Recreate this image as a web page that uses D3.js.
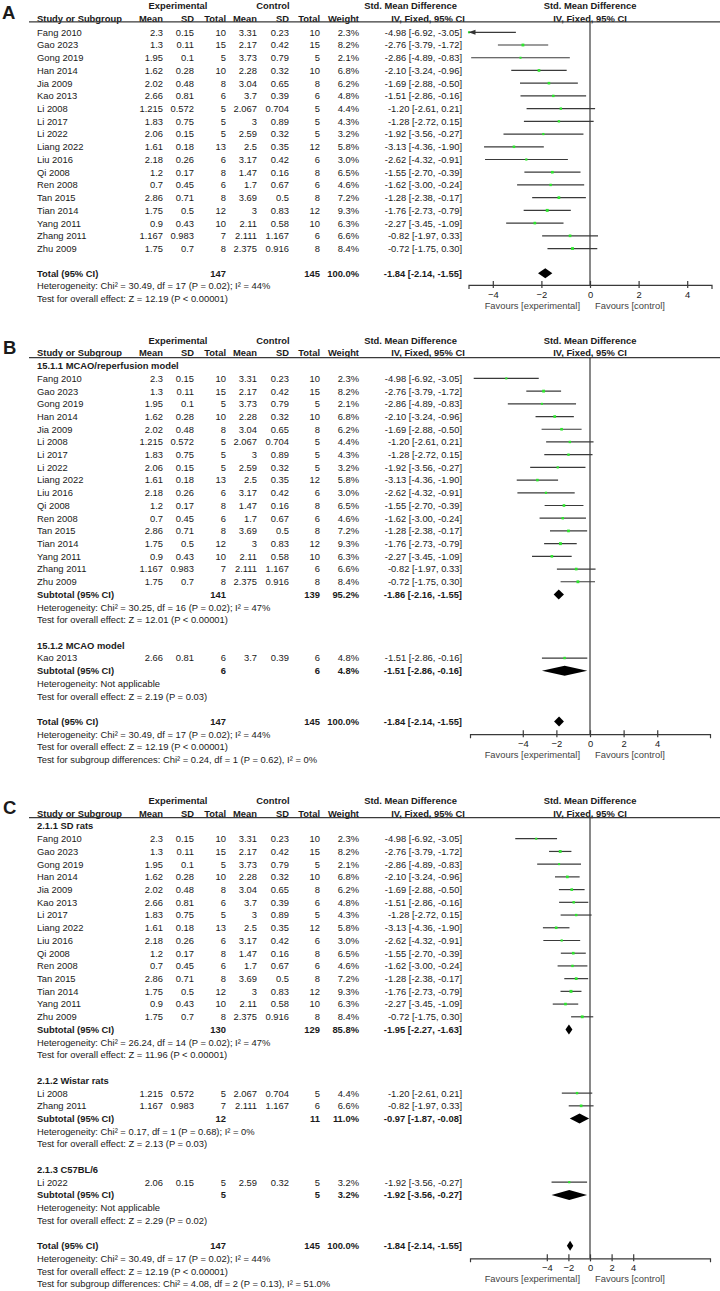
<!DOCTYPE html>
<html><head><meta charset="utf-8">
<script src="https://cdn.jsdelivr.net/npm/d3@7"></script>
<style>
body{margin:0;background:#fff}
text{font-family:"Liberation Sans",Arial,Helvetica,sans-serif;fill:#1a1a1a}
</style>
</head><body>
<svg id="chart" width="720" height="1291"></svg>
<script>
// ---------- data ----------
const studies = ["Fang 2010","Gao 2023","Gong 2019","Han 2014","Jia 2009","Kao 2013","Li 2008","Li 2017","Li 2022","Liang 2022","Liu 2016","Qi 2008","Ren 2008","Tan 2015","Tian 2014","Yang 2011","Zhang 2011","Zhu 2009"];
const expMean = [2.3,1.3,1.95,1.62,2.02,2.66,1.215,1.83,2.06,1.61,2.18,1.2,0.7,2.86,1.75,0.9,1.167,1.75];
const expSD   = [0.15,0.11,0.1,0.28,0.48,0.81,0.572,0.75,0.15,0.18,0.26,0.17,0.45,0.71,0.5,0.43,0.983,0.7];
const expN    = [10,15,5,10,8,6,5,5,5,13,6,8,6,8,12,10,7,8];
const ctlMean = [3.31,2.17,3.73,2.28,3.04,3.7,2.067,3,2.59,2.5,3.17,1.47,1.7,3.69,3,2.11,2.111,2.375];
const ctlSD   = [0.23,0.42,0.79,0.32,0.65,0.39,0.704,0.89,0.32,0.35,0.42,0.16,0.67,0.5,0.83,0.58,1.167,0.916];
const ctlN    = [10,15,5,10,8,6,5,5,5,12,6,8,6,8,12,10,6,8];
const weight  = [2.3,8.2,2.1,6.8,6.2,4.8,4.4,4.3,3.2,5.8,3.0,6.5,4.6,7.2,9.3,6.3,6.6,8.4];
const smd     = [-4.98,-2.76,-2.86,-2.10,-1.69,-1.51,-1.20,-1.28,-1.92,-3.13,-2.62,-1.55,-1.62,-1.28,-1.76,-2.27,-0.82,-0.72];
const ciLow   = [-6.92,-3.79,-4.89,-3.24,-2.88,-2.86,-2.61,-2.72,-3.56,-4.36,-4.32,-2.70,-3.00,-2.38,-2.73,-3.45,-1.97,-1.75];
const ciHigh  = [-3.05,-1.72,-0.83,-0.96,-0.50,-0.16,0.21,0.15,-0.27,-1.90,-0.91,-0.39,-0.24,-0.17,-0.79,-1.09,0.33,0.30];

// subgroups panel B
const groupNamesB = ["15.1.1 MCAO/reperfusion model","15.1.2 MCAO model"];
const groupMembersB = [
  ["Fang 2010","Gao 2023","Gong 2019","Han 2014","Jia 2009","Li 2008","Li 2017","Li 2022","Liang 2022","Liu 2016","Qi 2008","Ren 2008","Tan 2015","Tian 2014","Yang 2011","Zhang 2011","Zhu 2009"],
  ["Kao 2013"]];
const subExpNB = [141,6], subCtlNB = [139,6], subWeightB = [95.2,4.8];
const subSmdB = [-1.86,-1.51], subLowB = [-2.16,-2.86], subHighB = [-1.55,-0.16];
const subHetB = ["Heterogeneity: Chi\u00b2 = 30.25, df = 16 (P = 0.02); I\u00b2 = 47%","Heterogeneity: Not applicable"];
const subTestB = ["Test for overall effect: Z = 12.01 (P < 0.00001)","Test for overall effect: Z = 2.19 (P = 0.03)"];
const subgroupDiffB = "Test for subgroup differences: Chi\u00b2 = 0.24, df = 1 (P = 0.62), I\u00b2 = 0%";

// subgroups panel C
const groupNamesC = ["2.1.1 SD rats","2.1.2 Wistar rats","2.1.3 C57BL/6"];
const groupMembersC = [
  ["Fang 2010","Gao 2023","Gong 2019","Han 2014","Jia 2009","Kao 2013","Li 2017","Liang 2022","Liu 2016","Qi 2008","Ren 2008","Tan 2015","Tian 2014","Yang 2011","Zhu 2009"],
  ["Li 2008","Zhang 2011"],
  ["Li 2022"]];
const subExpNC = [130,12,5], subCtlNC = [129,11,5], subWeightC = [85.8,11.0,3.2];
const subSmdC = [-1.95,-0.97,-1.92], subLowC = [-2.27,-1.87,-3.56], subHighC = [-1.63,-0.08,-0.27];
const subHetC = ["Heterogeneity: Chi\u00b2 = 26.24, df = 14 (P = 0.02); I\u00b2 = 47%","Heterogeneity: Chi\u00b2 = 0.17, df = 1 (P = 0.68); I\u00b2 = 0%","Heterogeneity: Not applicable"];
const subTestC = ["Test for overall effect: Z = 11.96 (P < 0.00001)","Test for overall effect: Z = 2.13 (P = 0.03)","Test for overall effect: Z = 2.29 (P = 0.02)"];
const subgroupDiffC = "Test for subgroup differences: Chi\u00b2 = 4.08, df = 2 (P = 0.13), I\u00b2 = 51.0%";

// overall
const totalExpN = 147, totalCtlN = 145, totalWeight = 100.0;
const totalSmd = -1.84, totalLow = -2.14, totalHigh = -1.55;
const totalHet = "Heterogeneity: Chi\u00b2 = 30.49, df = 17 (P = 0.02); I\u00b2 = 44%";
const totalTest = "Test for overall effect: Z = 12.19 (P < 0.00001)";
const tickValues = [-4,-2,0,2,4];

// ---------- layout ----------
const svg = d3.select("#chart");
const FS = 9.4;
const col = {name:37, em:163, esd:194, en:226, cm:257, csd:289, cn:320, w:359, ci:462};
const f2 = v => v.toFixed(2);
const ciStr = (e,l,h) => `${f2(e)} [${f2(l)}, ${f2(h)}]`;
const sizeScale = d3.scaleSqrt().domain([0,10]).range([1.2,3]);

function txt(g, x, y, s, anchor, bold, extra) {
  const t = g.append("text").attr("x", x).attr("y", y + 3.4)
    .attr("font-size", FS).attr("text-anchor", anchor || "start")
    .attr("font-weight", bold ? "bold" : "normal").text(s);
  if (extra) extra(t);
  return t;
}

function drawPanel(cfg) {
  const g = svg.append("g");
  const x = d3.scaleLinear().domain(cfg.domain).range(cfg.range);
  const x0 = x(0);
  // letter
  g.append("text").attr("x", cfg.letterX).attr("y", cfg.head2 + 0.5)
    .attr("font-size", 18.5).attr("font-weight", "bold").text(cfg.letter);
  // headers
  txt(g, 178, cfg.head1, "Experimental", "middle", true);
  txt(g, 273, cfg.head1, "Control", "middle", true);
  txt(g, 410.5, cfg.head1, "Std. Mean Difference", "middle", true);
  txt(g, x0, cfg.head1, "Std. Mean Difference", "middle", true);
  txt(g, col.name, cfg.head2, "Study or Subgroup", "start", true);
  [["em","Mean"],["esd","SD"],["en","Total"],["cm","Mean"],["csd","SD"],["cn","Total"],["w","Weight"]]
    .forEach(([k,s]) => txt(g, col[k], cfg.head2, s, "end", true));
  txt(g, 428, cfg.head2, "IV, Fixed, 95% CI", "middle", true);
  txt(g, x0, cfg.head2, "IV, Fixed, 95% CI", "middle", true);
  g.append("line").attr("x1", 29).attr("x2", 720).attr("y1", cfg.line).attr("y2", cfg.line)
    .attr("stroke", "#3a3a3a").attr("stroke-width", 1.3);

  let cursor = 0;
  const yOf = () => cfg.rowStart + cursor * cfg.step;
  const marks = g.append("g");

  function studyRow(name) {
    const i = studies.indexOf(name);
    const y = yOf();
    txt(g, col.name, y, name);
    txt(g, col.em, y, String(expMean[i]), "end");
    txt(g, col.esd, y, String(expSD[i]), "end");
    txt(g, col.en, y, String(expN[i]), "end");
    txt(g, col.cm, y, String(ctlMean[i]), "end");
    txt(g, col.csd, y, String(ctlSD[i]), "end");
    txt(g, col.cn, y, String(ctlN[i]), "end");
    txt(g, col.w, y, weight[i].toFixed(1) + "%", "end");
    txt(g, col.ci, y, ciStr(smd[i], ciLow[i], ciHigh[i]), "end");
    const lo = Math.max(ciLow[i], cfg.domain[0]);
    const hi = Math.min(ciHigh[i], cfg.domain[1]);
    const s = sizeScale(weight[i]);
    marks.append("line").attr("x1", x(lo)).attr("x2", x(hi)).attr("y1", y).attr("y2", y)
      .attr("stroke", "#3a3a3a").attr("stroke-width", 1.2);
    marks.append("rect").attr("x", x(smd[i]) - s/2).attr("y", y - s/2)
      .attr("width", s).attr("height", s).attr("fill", "#2ee62e");
    if (ciLow[i] < cfg.domain[0]) {
      const ax = x(cfg.domain[0]);
      marks.append("path").attr("d", `M${ax},${y} L${ax+7},${y-2.5} L${ax+7},${y+2.5} Z`)
        .attr("fill", "#333");
    }
    cursor += 1;
  }
  function diamond(est, lo, hi, y, h) {
    marks.append("path")
      .attr("d", `M${x(lo)},${y} L${x(est)},${y-h} L${x(hi)},${y} L${x(est)},${y+h} Z`)
      .attr("fill", "#000");
  }
  function summaryRow(label, en, cn, w, est, lo, hi) {
    const y = yOf();
    txt(g, col.name, y, label, "start", true);
    txt(g, col.en, y, String(en), "end", true);
    txt(g, col.cn, y, String(cn), "end", true);
    txt(g, col.w, y, w.toFixed(1) + "%", "end", true);
    txt(g, col.ci, y, ciStr(est, lo, hi), "end", true);
    diamond(est, lo, hi, y, 5);
    cursor += 1;
    return y;
  }
  function textRow(s, bold) { txt(g, col.name, yOf(), s, "start", bold); cursor += 1; }

  let totalY;
  if (!cfg.groups) {
    cfg.members.forEach(studyRow);
    cursor += cfg.gapBeforeTotal;
  } else {
    cfg.groups.forEach((gn, k) => {
      textRow(gn, true);
      cfg.groupMembers[k].forEach(studyRow);
      summaryRow("Subtotal (95% CI)", cfg.subExpN[k], cfg.subCtlN[k], cfg.subWeight[k],
        cfg.subSmd[k], cfg.subLow[k], cfg.subHigh[k]);
      textRow(cfg.subHet[k]);
      textRow(cfg.subTest[k]);
      cursor += 1;
    });
  }
  totalY = summaryRow("Total (95% CI)", totalExpN, totalCtlN, totalWeight, totalSmd, totalLow, totalHigh);
  textRow(totalHet);
  textRow(totalTest);
  if (cfg.subgroupDiff) textRow(cfg.subgroupDiff);

  // zero line
  const axisY = totalY + cfg.axisOffset;
  g.insert("line", ":first-child").attr("x1", x0).attr("x2", x0).attr("y1", cfg.line).attr("y2", axisY)
    .attr("stroke", "#3a3a3a").attr("stroke-width", 1.2);
  // axis
  const axG = g.append("g").attr("transform", `translate(0,${axisY})`)
    .call(d3.axisBottom(x).tickValues(tickValues).tickSizeOuter(0).tickSize(4).tickFormat(d3.format("d")));
  axG.select(".domain").attr("stroke", "#3a3a3a").attr("stroke-width", 1.2);
  axG.selectAll(".tick line").attr("y1", -4).attr("y2", 3).attr("stroke", "#3a3a3a").attr("stroke-width", 1.2);
  axG.selectAll(".tick text").attr("y", 13).attr("dy", null)
    .attr("font-size", FS).attr("font-family", null).attr("fill", "#1a1a1a");
  txt(g, x0 - 10, axisY + 20.5, "Favours [experimental]", "end", false, t => t.style("fill", "#444"));
  txt(g, x0 + 5, axisY + 20.5, "Favours [control]", "start", false, t => t.style("fill", "#444"));
}

drawPanel({letter:"A", letterX:2, head1:5.5, head2:18.3, line:21.8, rowStart:32.3, step:12.72,
  domain:[-5,5], range:[468.5,711.5], members:studies, gapBeforeTotal:0.95, axisOffset:11.6});

drawPanel({letter:"B", letterX:3, head1:340.5, head2:353, line:357.7, rowStart:365.7, step:12.71,
  domain:[-7.14,7.14], range:[470,710], groups:groupNamesB, groupMembers:groupMembersB,
  subExpN:subExpNB, subCtlN:subCtlNB, subWeight:subWeightB, subSmd:subSmdB, subLow:subLowB, subHigh:subHighB,
  subHet:subHetB, subTest:subTestB, subgroupDiff:subgroupDiffB, axisOffset:12.6});

drawPanel({letter:"C", letterX:3, head1:800.5, head2:813.3, line:817.7, rowStart:826, step:12.72,
  domain:[-11.11,11.11], range:[470,710], groups:groupNamesC, groupMembers:groupMembersC,
  subExpN:subExpNC, subCtlN:subCtlNC, subWeight:subWeightC, subSmd:subSmdC, subLow:subLowC, subHigh:subHighC,
  subHet:subHetC, subTest:subTestC, subgroupDiff:subgroupDiffC, axisOffset:12.6});
</script>
</body></html>
